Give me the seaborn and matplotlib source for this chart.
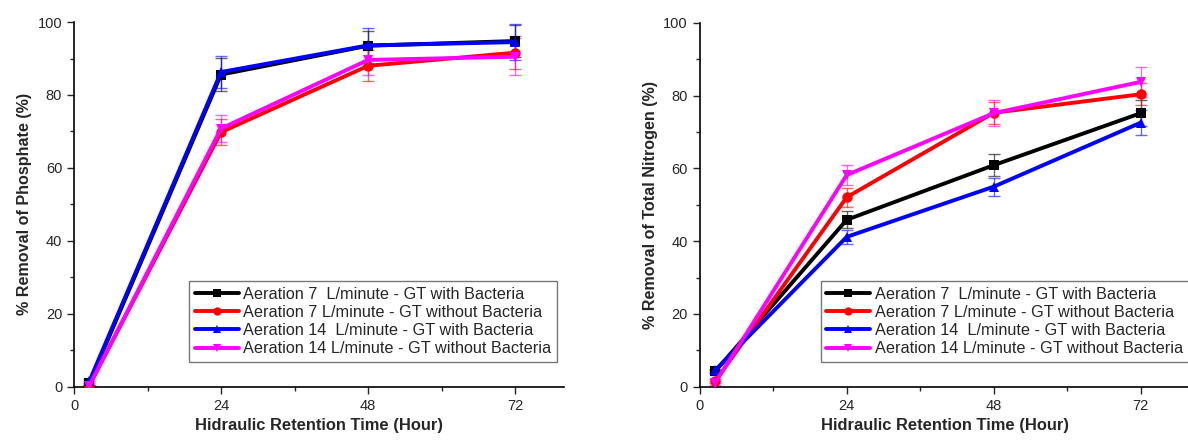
import numpy as np
import pandas as pd
import seaborn as sns
import matplotlib.pyplot as plt
from matplotlib.ticker import MultipleLocator

# data
hours = [2.5, 24, 48, 72]
series = ['Aeration 7  L/minute - GT with Bacteria',
          'Aeration 7 L/minute - GT without Bacteria',
          'Aeration 14  L/minute - GT with Bacteria',
          'Aeration 14 L/minute - GT without Bacteria']
colors = ['#000000', '#ff0000', '#0000ff', '#ff00ff']
markers = ['s', 'o', '^', 'v']

phos_7_bac = [1.0, 85.6, 93.5, 94.8]
phos_7_nobac = [0.3, 69.8, 88.0, 91.6]
phos_14_bac = [1.5, 86.3, 93.6, 94.5]
phos_14_nobac = [0.3, 70.8, 89.6, 90.5]
phos_err_7_bac = [0.5, 4.5, 4.0, 4.5]
phos_err_7_nobac = [0.3, 3.5, 4.2, 4.6]
phos_err_14_bac = [0.5, 4.3, 4.8, 5.0]
phos_err_14_nobac = [0.3, 3.6, 4.0, 5.0]

tn_7_bac = [4.2, 45.9, 60.9, 75.2]
tn_7_nobac = [1.5, 52.1, 75.3, 80.4]
tn_14_bac = [4.5, 41.2, 55.0, 72.6]
tn_14_nobac = [1.0, 58.2, 75.2, 83.8]
tn_err_7_bac = [0.5, 2.3, 3.1, 3.5]
tn_err_7_nobac = [0.5, 2.6, 3.0, 3.0]
tn_err_14_bac = [0.5, 2.0, 2.5, 3.5]
tn_err_14_nobac = [0.5, 2.8, 3.6, 4.2]


def long_df(vals, errs):
    recs = []
    for name, v, e in zip(series, vals, errs):
        for h, y, err in zip(hours, v, e):
            recs.append({'Hour': h, 'Removal': y, 'err': err, 'Series': name})
    return pd.DataFrame(recs)


phos_df = long_df([phos_7_bac, phos_7_nobac, phos_14_bac, phos_14_nobac],
                  [phos_err_7_bac, phos_err_7_nobac, phos_err_14_bac, phos_err_14_nobac])
tn_df = long_df([tn_7_bac, tn_7_nobac, tn_14_bac, tn_14_nobac],
                [tn_err_7_bac, tn_err_7_nobac, tn_err_14_bac, tn_err_14_nobac])

sns.set_style('ticks')
plt.rcParams['font.family'] = ['Liberation Sans', 'DejaVu Sans']

fig = plt.figure(figsize=(11.88, 4.41), dpi=100)
ax1 = fig.add_axes([0.0623, 0.123, 0.4125, 0.827])
ax2 = fig.add_axes([0.589, 0.123, 0.4125, 0.825])

palette = dict(zip(series, colors))
mk = dict(zip(series, markers))


def draw(ax, df, ylabel, legend_anchor, legend_loc):
    # error bars first, thin and a bit faded
    for name in series:
        sub = df[df['Series'] == name]
        ax.errorbar(sub['Hour'], sub['Removal'], yerr=sub['err'], fmt='none',
                    ecolor=palette[name], elinewidth=1, capsize=4, capthick=1,
                    alpha=0.6, zorder=2)
    sns.lineplot(data=df, x='Hour', y='Removal', hue='Series', style='Series',
                 palette=palette, markers=mk, dashes=False, linewidth=2.8,
                 markersize=7.5, markeredgewidth=0, ax=ax, zorder=3)
    ax.set_xlim(0, 80)
    ax.set_ylim(0, 100)
    ax.xaxis.set_major_locator(MultipleLocator(24))
    ax.xaxis.set_minor_locator(MultipleLocator(12))
    ax.yaxis.set_major_locator(MultipleLocator(20))
    ax.yaxis.set_minor_locator(MultipleLocator(10))
    ax.tick_params(which='major', direction='out', length=5, width=1, labelsize=10.5)
    ax.tick_params(which='minor', direction='out', length=3, width=1)
    for s in ['top', 'right']:
        ax.spines[s].set_visible(False)
    for s in ['left', 'bottom']:
        ax.spines[s].set_linewidth(1.2)
        ax.spines[s].set_color('black')
    ax.set_xlabel('Hidraulic Retention Time (Hour)', fontsize=11.9, fontweight='bold')
    ax.set_ylabel(ylabel, fontsize=11.6, fontweight='bold')
    leg = ax.legend(loc=legend_loc, bbox_to_anchor=legend_anchor, fontsize=11.7,
                    frameon=True, fancybox=False, edgecolor='#555555',
                    handlelength=2.7, handletextpad=0.3, labelspacing=0.2,
                    borderpad=0.35, borderaxespad=0)
    leg.get_frame().set_linewidth(1)
    for h in leg.get_lines():
        h.set_linewidth(2.8)
        h.set_markersize(6)


draw(ax1, phos_df, '% Removal of Phosphate (%)', (0.986, 0.068), 'lower right')
draw(ax2, tn_df, '% Removal of Total Nitrogen (%)', (0.247, 0.068), 'lower left')

fig.savefig('out.png', dpi=100)
